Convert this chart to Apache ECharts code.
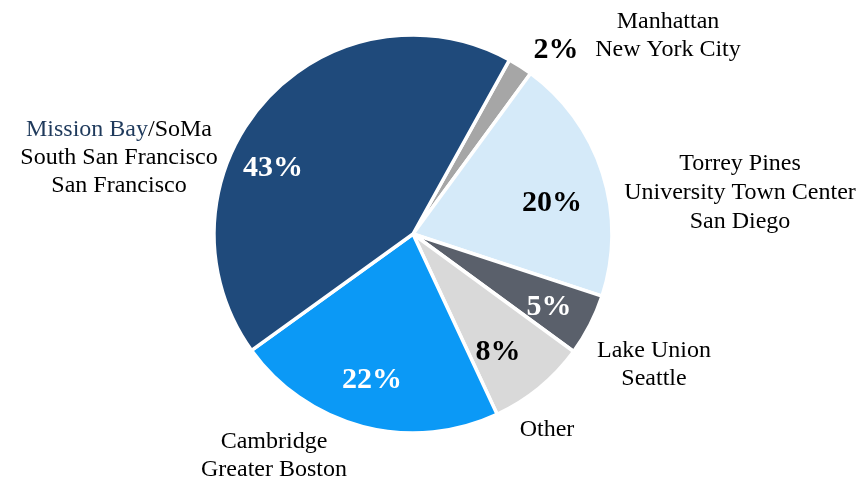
<!DOCTYPE html>
<html>
<head>
<meta charset="utf-8">
<script src="https://cdn.jsdelivr.net/npm/echarts@6/dist/echarts.min.js"></script>
<style>
  html, body { margin: 0; padding: 0; background: #ffffff; }
  #chart { width: 868px; height: 480px; }
</style>
</head>
<body>
<div id="chart"></div>
<script>
// Share of lab space by life-science cluster (percent)
const clusters = [
  'Manhattan / New York City',
  'Torrey Pines / UTC / San Diego',
  'Lake Union / Seattle',
  'Other',
  'Cambridge / Greater Boston',
  'Mission Bay/SoMa / South San Francisco / San Francisco'
];
const shares = [2, 20, 5, 8, 22, 43];
const sliceColors = ['#a6a6a6', '#d5eaf9', '#5a606b', '#d9d9d9', '#0b99f6', '#1f4a7b'];
const labelColors = ['#000000', '#000000', '#ffffff', '#000000', '#ffffff', '#ffffff'];

// Placement of the percentage labels (pixel centres)
const pctPos = [[556, 50], [552, 203], [549, 307], [498, 352], [372, 380], [273, 168]];

const serif = '"Liberation Serif", "Times New Roman", serif';
const nameFont = '24px ' + serif;

const chart = echarts.init(document.getElementById('chart'), null, { renderer: 'canvas' });

// Location names drawn beside the pie
function nameBlock(cx, top, text, lh) {
  return {
    type: 'text',
    x: cx,
    y: top,
    style: { text: text, font: nameFont, fill: '#000000', align: 'center', lineHeight: lh }
  };
}

chart.setOption({
  backgroundColor: '#ffffff',
  animation: false,
  graphic: [
    {
      type: 'text',
      x: 119,
      y: 116,
      style: {
        text: '{nv|Mission Bay}{bk|/SoMa}\n{bk|South San Francisco}\n{bk|San Francisco}',
        align: 'center',
        font: nameFont,
        lineHeight: 28,
        rich: {
          nv: { font: nameFont, fill: '#1f3a5c', lineHeight: 28 },
          bk: { font: nameFont, fill: '#000000', lineHeight: 28 }
        }
      }
    },
    nameBlock(668, 8, 'Manhattan\nNew York City', 28),
    nameBlock(740, 149, 'Torrey Pines\nUniversity Town Center\nSan Diego', 29),
    nameBlock(654, 337, 'Lake Union\nSeattle', 28),
    nameBlock(547, 416, 'Other', 28),
    nameBlock(274, 428, 'Cambridge\nGreater Boston', 28)
  ],
  series: [{
    type: 'pie',
    center: [413, 234],
    radius: [0, 199],
    startAngle: 61,
    clockwise: true,
    avoidLabelOverlap: false,
    itemStyle: { borderColor: '#ffffff', borderWidth: 3.5 },
    label: {
      show: true,
      position: 'inside',
      formatter: p => p.value + '%',
      fontFamily: serif,
      fontWeight: 'bold',
      fontSize: 30
    },
    labelLine: { show: false },
    labelLayout: p => ({
      x: pctPos[p.dataIndex][0],
      y: pctPos[p.dataIndex][1],
      align: 'center',
      verticalAlign: 'middle'
    }),
    emphasis: { disabled: true },
    data: clusters.map((name, i) => ({
      name: name,
      value: shares[i],
      itemStyle: { color: sliceColors[i] },
      label: { color: labelColors[i] }
    }))
  }]
});
</script>
</body>
</html>
